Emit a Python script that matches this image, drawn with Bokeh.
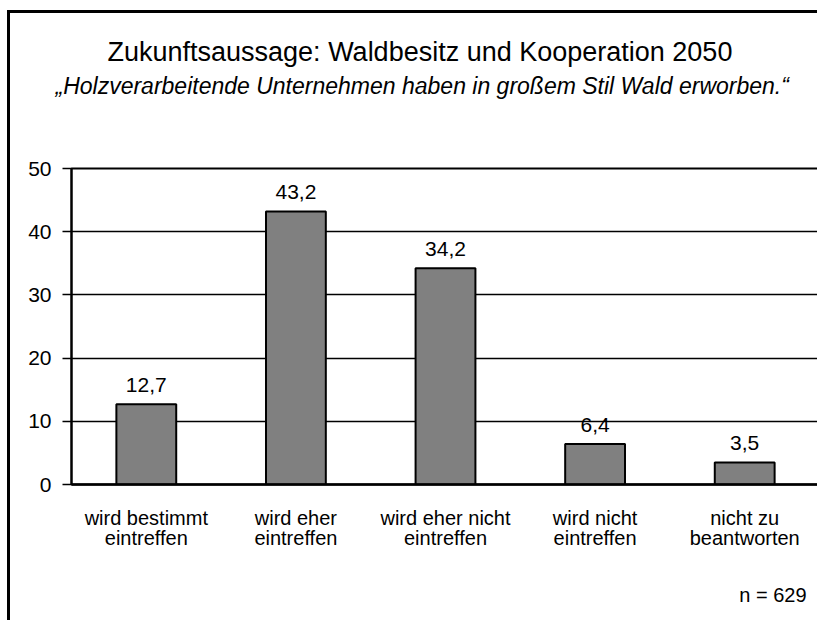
from bokeh.plotting import figure
from bokeh.models import Range1d, FixedTicker, ColumnDataSource, LabelSet, Title
from bokeh.core.properties import value
from bokeh.embed import file_html
from bokeh.resources import INLINE

categories = ["wird bestimmt\neintreffen", "wird eher\neintreffen", "wird eher nicht\neintreffen",
              "wird nicht\neintreffen", "nicht zu\nbeantworten"]
values = [12.7, 43.2, 34.2, 6.4, 3.5]
y_ticks = [0, 10, 20, 30, 40, 50]
title_text = "Zukunftsaussage: Waldbesitz und Kooperation 2050"
subtitle_text = "\u201eHolzverarbeitende Unternehmen haben in gro\u00dfem Stil Wald erworben.\u201c"
n_text = "n = 629"

FONT = "Liberation Sans"

xs = [i + 0.5 for i in range(len(categories))]
labels = [f"{v:.1f}".replace(".", ",") for v in values]
src = ColumnDataSource(dict(x=xs, top=values, label=labels))

p = figure(width=810, height=610, output_backend="svg", toolbar_location=None,
           x_range=Range1d(0, len(categories)), y_range=Range1d(0, 50),
           min_border_left=61, min_border_right=1, min_border_top=155, min_border_bottom=139)
p.styles = {"border-left": "3px solid black", "border-top": "3px solid black",
            "margin-left": "7px", "margin-top": "10px"}

p.vbar(x="x", top="top", width=0.4, source=src, fill_color="#808080",
       line_color="black", line_width=2)

p.outline_line_color = "black"
p.outline_line_width = 2
p.background_fill_color = "white"
p.border_fill_color = "white"

p.xgrid.visible = False
p.ygrid.ticker = FixedTicker(ticks=y_ticks)
p.ygrid.grid_line_color = "black"
p.ygrid.grid_line_width = 1.3

p.yaxis.ticker = FixedTicker(ticks=y_ticks)
p.yaxis.axis_line_color = "black"
p.yaxis.axis_line_width = 2
p.yaxis.major_tick_line_width = 1.5
p.yaxis.major_tick_out = 9
p.yaxis.major_tick_in = 0
p.yaxis.minor_tick_line_color = None
p.yaxis.major_label_text_font = FONT
p.yaxis.major_label_text_font_size = "21px"
p.yaxis.major_label_text_color = "black"
p.yaxis.major_label_standoff = 11

p.xaxis.ticker = FixedTicker(ticks=xs)
p.xaxis.major_label_overrides = {x: c for x, c in zip(xs, categories)}
p.xaxis.axis_line_width = 2.5
p.xaxis.axis_line_color = "black"
p.xaxis.major_tick_line_color = None
p.xaxis.minor_tick_line_color = None
p.xaxis.major_label_text_font = FONT
p.xaxis.major_label_text_font_size = "20px"
p.xaxis.major_label_text_color = "black"
p.xaxis.major_label_text_line_height = 0.92
p.xaxis.major_label_standoff = 16

p.add_layout(LabelSet(x="x", y="top", text="label", source=src, y_offset=12,
                      text_align="center", text_baseline="alphabetic",
                      text_font=value(FONT), text_font_size=value("21px"), text_color="black"))

# spacer panel between frame and subtitle
p.add_layout(Title(text=" ", text_font_size="1px", standoff=64), "above")
p.add_layout(Title(text=subtitle_text, align="left", offset=-16, standoff=5.6,
                   text_font=FONT, text_font_size="23px", text_font_style="italic",
                   text_color="black"), "above")
p.add_layout(Title(text=title_text, align="left", offset=36, standoff=2,
                   text_font=FONT, text_font_size="27px", text_font_style="normal",
                   text_color="black"), "above")
# spacer panel between axis labels and n
p.add_layout(Title(text=" ", text_font_size="1px", standoff=25.5), "below")
p.add_layout(Title(text=n_text, align="right", offset=13, standoff=2,
                   text_font=FONT, text_font_size="20px", text_font_style="normal",
                   text_color="black"), "below")

open("out.html", "w").write(file_html(p, INLINE))
